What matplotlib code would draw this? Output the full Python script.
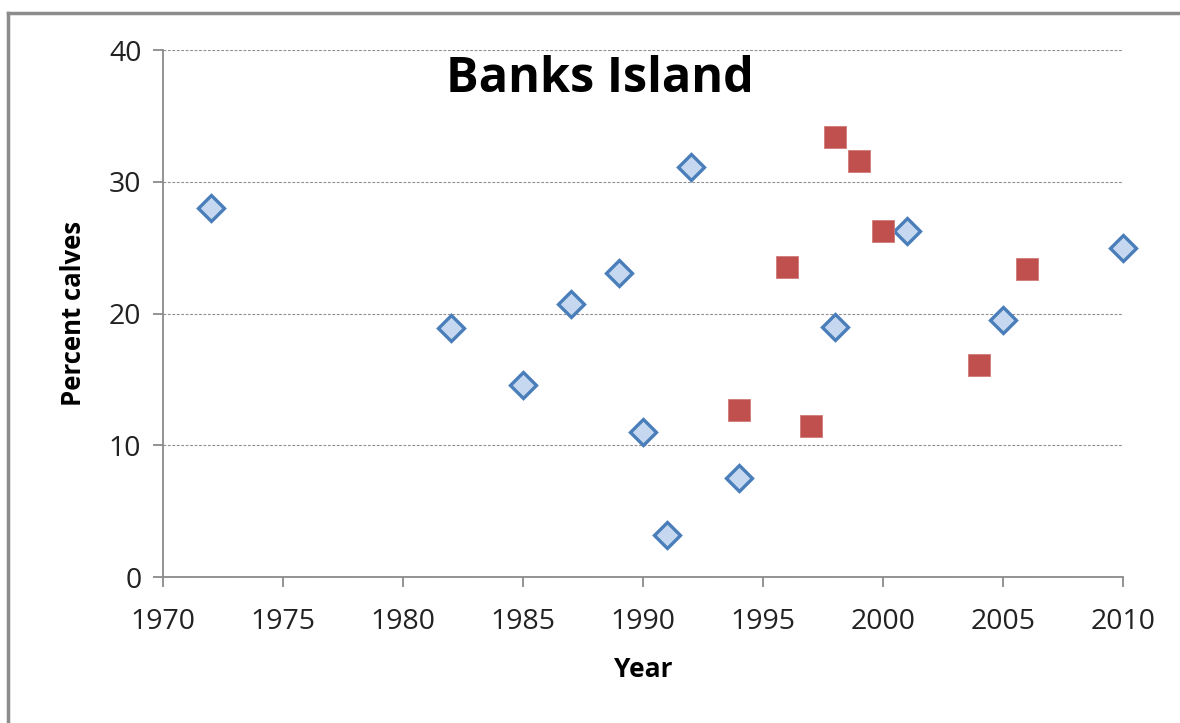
import matplotlib
matplotlib.use("Agg")
import matplotlib.pyplot as plt
from matplotlib.lines import Line2D

# Percent calves by survey year
blue_years = [1972, 1982, 1985, 1987, 1989, 1990, 1991, 1992, 1994, 1998, 2001, 2005, 2010]
blue_pct = [28.0, 18.9, 14.6, 20.7, 23.1, 11.0, 3.2, 31.1, 7.5, 19.0, 26.3, 19.5, 25.0]

red_years = [1994, 1996, 1997, 1998, 1999, 2000, 2004, 2006]
red_pct = [12.7, 23.5, 11.5, 33.4, 31.6, 26.3, 16.1, 23.4]

x_ticks = [1970, 1975, 1980, 1985, 1990, 1995, 2000, 2005, 2010]
y_ticks = [0, 10, 20, 30, 40]

plt.rcParams['font.family'] = ['Open Sans', 'DejaVu Sans']

fig = plt.figure(figsize=(11.8, 7.23), dpi=100)
ax = fig.add_axes([0.1381, 0.2019, 0.8136, 0.7289])

ax.set_xlim(1970, 2010)
ax.set_ylim(0, 40)
ax.set_xticks(x_ticks)
ax.set_yticks(y_ticks)

ax.grid(axis='y', color='#8f8f8f', linestyle=(0, (2.5, 1.5)), linewidth=0.8)
ax.set_axisbelow(True)

for s in ('top', 'right'):
    ax.spines[s].set_visible(False)
for s in ('left', 'bottom'):
    ax.spines[s].set_color('#8a8a8a')
    ax.spines[s].set_linewidth(1.3)

ax.tick_params(axis='x', direction='out', length=7.5, width=1.3, color='#8a8a8a',
               labelsize=20.5, pad=15, labelcolor='#222222')
ax.tick_params(axis='y', direction='out', length=7.5, width=1.3, color='#8a8a8a',
               labelsize=20.5, pad=8, labelcolor='#222222')

ax.plot(blue_years, blue_pct, linestyle='none', marker='D', markersize=13.5,
        markerfacecolor='#c6d8f0', markeredgecolor='#4a7ebb', markeredgewidth=2.4,
        clip_on=False, zorder=3)
ax.plot(red_years, red_pct, linestyle='none', marker='s', markersize=16.5,
        markerfacecolor='#c0504d', markeredgecolor='#d07a78', markeredgewidth=0.6,
        clip_on=False, zorder=3)

ax.set_xlabel('Year', fontsize=19, fontweight='bold', labelpad=14)
ax.set_ylabel('Percent calves', fontsize=18.5, fontweight='bold', labelpad=16)

fig.text(0.508, 0.890, 'Banks Island', fontsize=35, fontweight='bold',
         ha='center', va='center', color='black')

# Outer chart frame (top and left edges)
fig.add_artist(Line2D([8 / 1180, 1.0], [1 - 13 / 723, 1 - 13 / 723],
                      color='#8c8c8c', linewidth=2.5, transform=fig.transFigure))
fig.add_artist(Line2D([8 / 1180, 8 / 1180], [0.0, 1 - 13 / 723],
                      color='#8c8c8c', linewidth=2.5, transform=fig.transFigure))

fig.savefig('out.png', dpi=100, facecolor='white')
